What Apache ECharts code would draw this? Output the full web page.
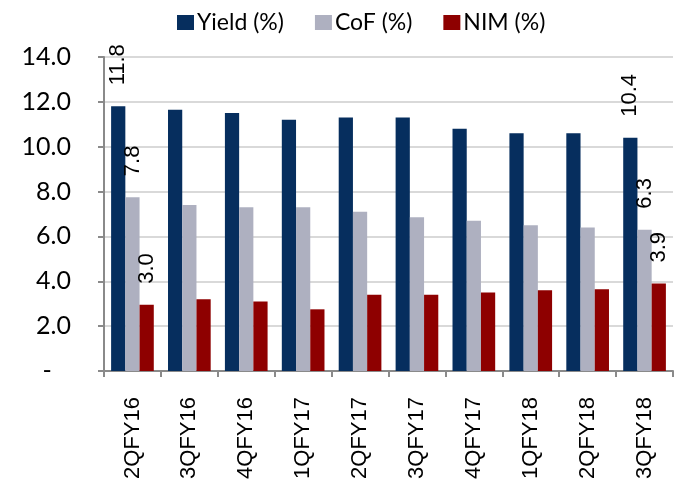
<!DOCTYPE html>
<html>
<head>
<meta charset="utf-8">
<script src="https://cdn.jsdelivr.net/npm/echarts@6/dist/echarts.min.js"></script>
<style>
html,body{margin:0;padding:0;background:#fff;}
#chart{width:683px;height:484px;}
</style>
</head>
<body>
<div id="chart"></div>
<script>
const categories = ['2QFY16','3QFY16','4QFY16','1QFY17','2QFY17','3QFY17','4QFY17','1QFY18','2QFY18','3QFY18'];
const yieldVals = [11.8, 11.65, 11.5, 11.2, 11.3, 11.3, 10.8, 10.6, 10.6, 10.4];
const cofVals = [7.75, 7.4, 7.3, 7.3, 7.1, 6.85, 6.7, 6.5, 6.4, 6.3];
const nimVals = [2.95, 3.2, 3.1, 2.75, 3.4, 3.4, 3.5, 3.6, 3.65, 3.9];
const seriesNames = ['Yield (%)', 'CoF (%)', 'NIM (%)'];
const yTicks = {min: 0, max: 14, interval: 2};

const colors = ['#062E5E', '#AEB0C0', '#8E0000'];
const labelIdx = [0, categories.length - 1];

function mkSeries(name, data, color) {
  return {
    name: name,
    type: 'bar',
    data: data,
    barGap: '0%',
    barCategoryGap: '25%',
    itemStyle: {color: color},
    label: {
      show: true,
      position: 'top',
      rotate: 90,
      align: 'left',
      verticalAlign: 'middle',
      distance: 21,
      color: '#000',
      fontFamily: 'Liberation Sans',
      fontSize: 22,
      formatter: p => labelIdx.includes(p.dataIndex) ? p.value.toFixed(1) : ''
    }
  };
}

const chart = echarts.init(document.getElementById('chart'), null, {renderer: 'canvas'});
chart.setOption({
  animation: false,
  backgroundColor: '#fff',
  color: colors,
  legend: {
    data: seriesNames,
    top: 6,
    left: 172,
    itemWidth: 17,
    itemHeight: 15,
    itemGap: 31,
    icon: 'rect',
    textStyle: {fontFamily: 'Lato', fontSize: 23, color: '#000', padding: [0,0,0,-2]}
  },
  grid: {left: 104, right: 10, top: 57, bottom: 113, containLabel: false},
  xAxis: {
    type: 'category',
    data: categories,
    boundaryGap: true,
    axisLine: {lineStyle: {color: '#8A8A8A', width: 2}},
    axisTick: {show: true, length: 6, lineStyle: {color: '#8A8A8A', width: 2}},
    axisLabel: {
      rotate: 90,
      margin: 26,
      color: '#000',
      fontFamily: 'Liberation Sans',
      fontSize: 22
    }
  },
  yAxis: {
    type: 'value',
    min: yTicks.min,
    max: yTicks.max,
    interval: yTicks.interval,
    axisLine: {show: true, lineStyle: {color: '#8A8A8A', width: 2}},
    axisTick: {show: true, length: 6, lineStyle: {color: '#8A8A8A', width: 2}},
    splitLine: {lineStyle: {color: '#D9D9D9', width: 2}},
    axisLabel: {
      margin: 33,
      color: '#000',
      fontFamily: 'Lato',
      fontSize: 25,
      formatter: v => v === 0 ? '-   ' : v.toFixed(1)
    }
  },
  series: [
    mkSeries(seriesNames[0], yieldVals, colors[0]),
    mkSeries(seriesNames[1], cofVals, colors[1]),
    mkSeries(seriesNames[2], nimVals, colors[2])
  ]
});
</script>
</body>
</html>
